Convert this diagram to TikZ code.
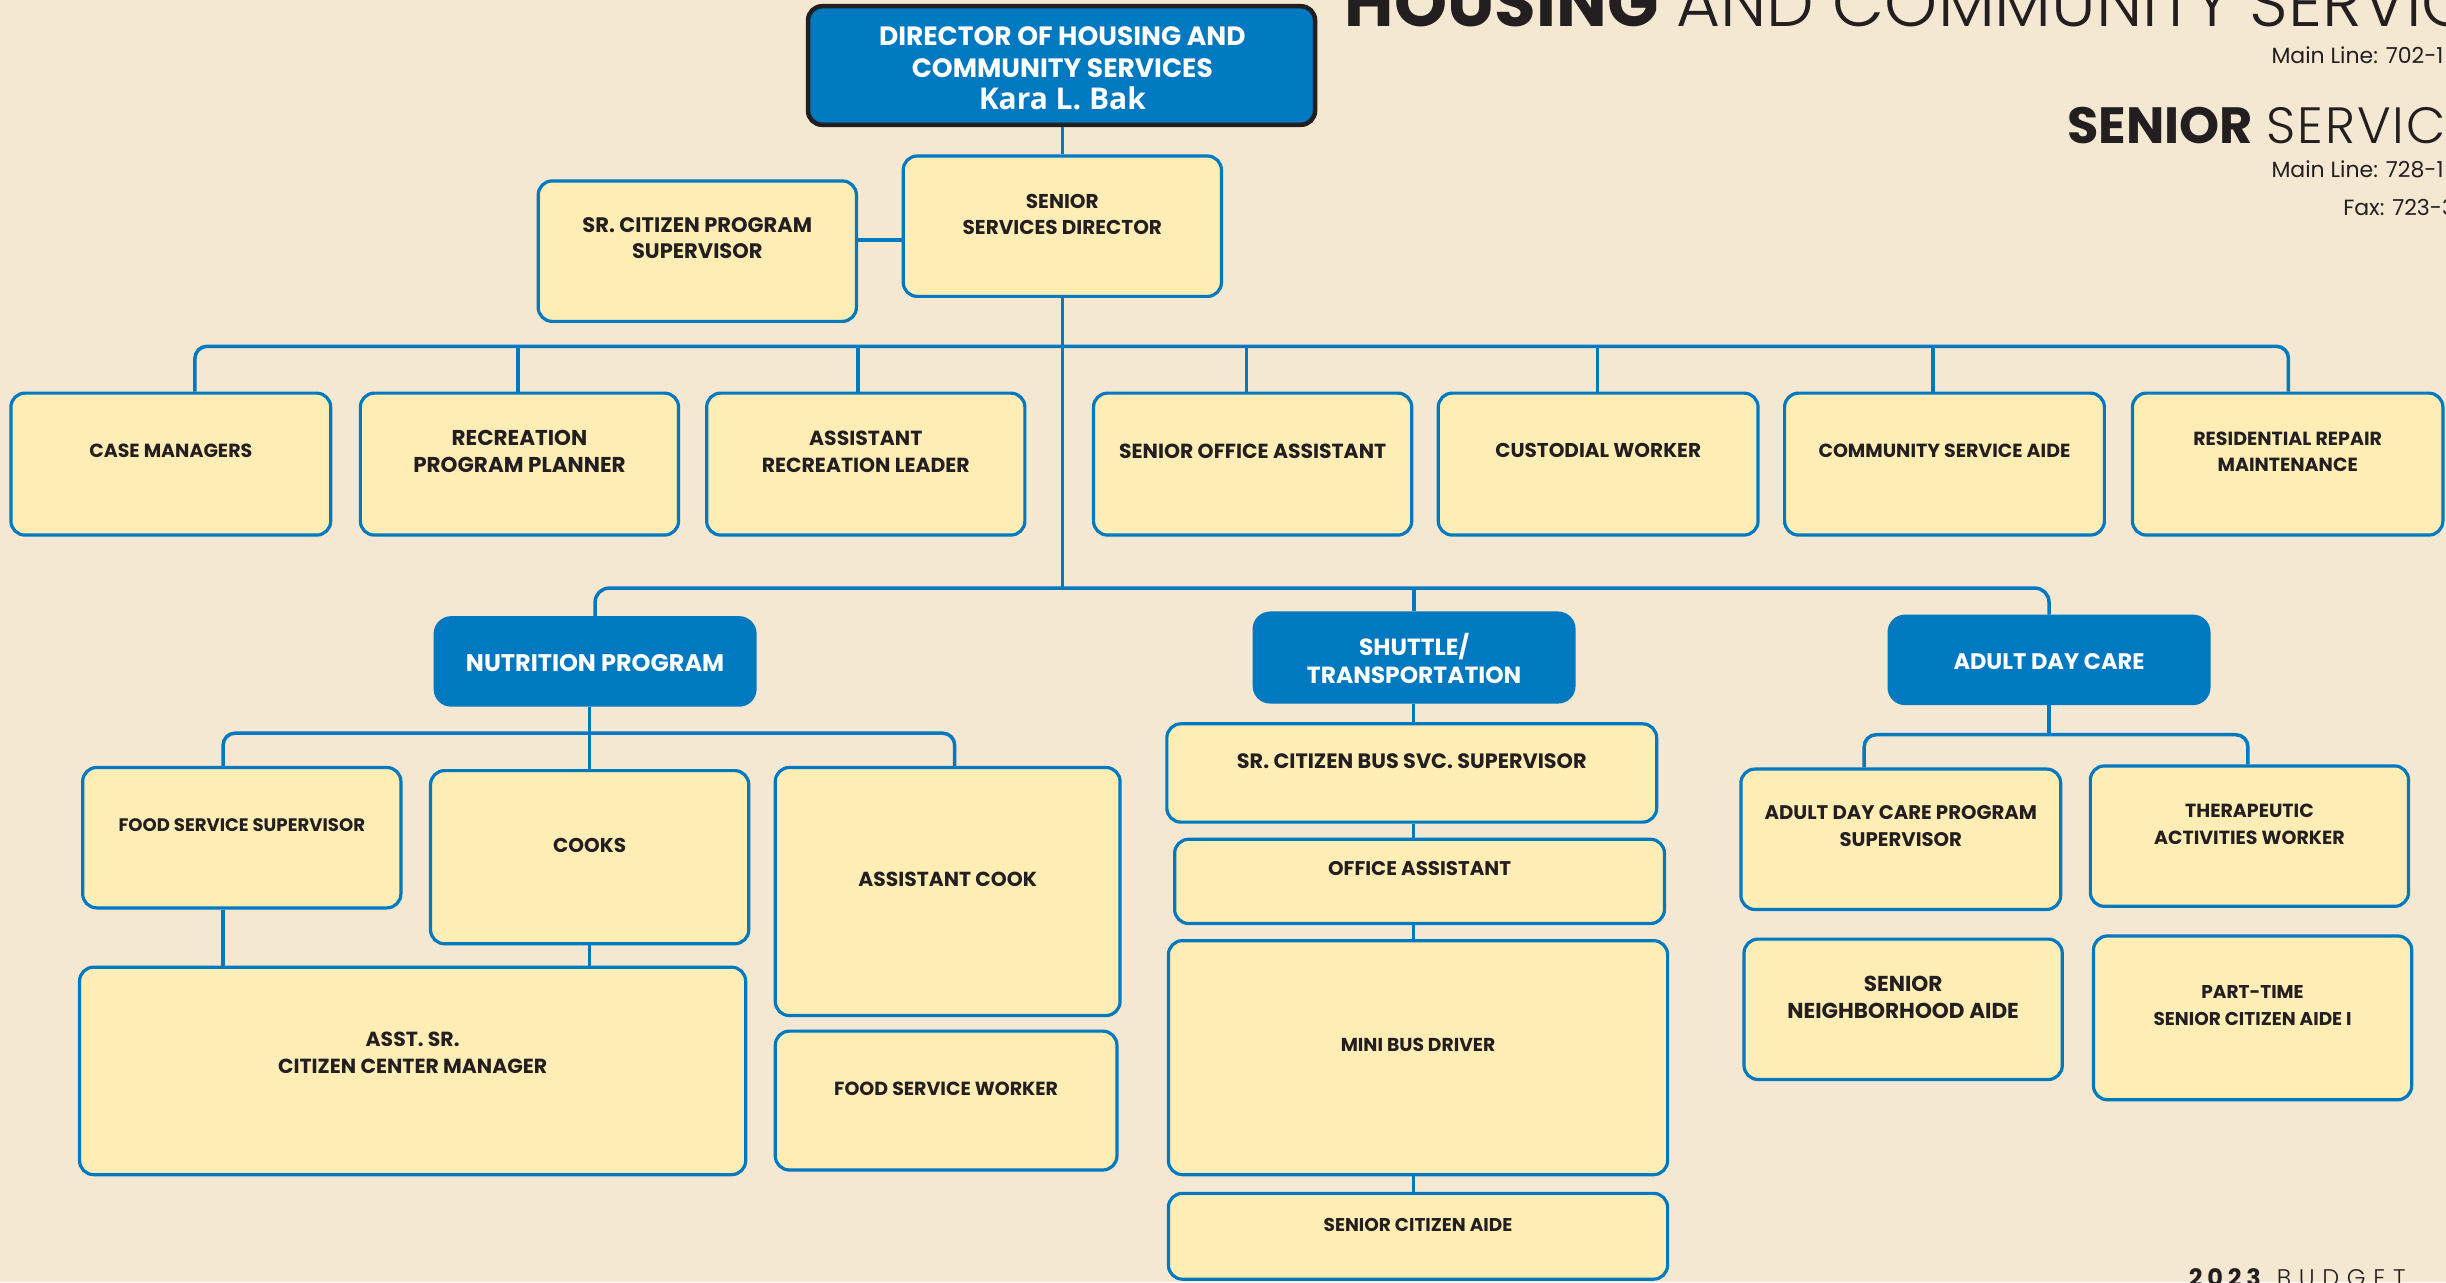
\documentclass[tikz,border=0pt]{standalone}
\usepackage{fontspec}
\setmainfont{Poppins}
\newfontfamily\karafont{Open Sans}
\newfontfamily\spacedfont[LetterSpace=20]{Poppins}
\IfFontExistsTF{Poppins Light}{%
  \newfontfamily\lightfont{Poppins Light}%
  \newfontfamily\spacedlight[LetterSpace=32]{Poppins Light}}{%
  \newfontfamily\lightfont{Poppins}%
  \newfontfamily\spacedlight[LetterSpace=32]{Poppins}}
\usetikzlibrary{fit}
\definecolor{bgc}{HTML}{F5E8D2}
\definecolor{boxc}{HTML}{FEEDB4}
\definecolor{bluec}{HTML}{0079C1}
\definecolor{inkc}{HTML}{231F20}
\tikzset{
  ybox/.style={draw=bluec, fill=boxc, line width=3.2pt, rounded corners=14pt, inner sep=0pt},
  bbox/.style={draw=bluec, fill=bluec, line width=3.2pt, rounded corners=16pt, inner sep=0pt},
  lbl/.style={text=inkc, align=center, inner sep=0pt},
  wlbl/.style={text=white, align=center, inner sep=0pt},
  conn/.style={draw=bluec, line width=3.5pt},
  hdr/.style={anchor=base west, inner sep=0pt, text=inkc},
}
% \yb[font size]{name}{x1}{y1}{x2}{y2}{text y}{text}
\newcommand\yb[8][19]{%
  \node[ybox, fit={(#3,#4) (#5,#6)}] (#2) {};
  \node[lbl, font=\bfseries\fontsize{#1}{26.5}\selectfont] (#2t) at ({(#3+#5)/2},#7) {#8};}
\newcommand\bb[8][22]{%
  \node[bbox, fit={(#3,#4) (#5,#6)}] (#2) {};
  \node[wlbl, font=\bfseries\fontsize{#1}{28}\selectfont] (#2t) at ({(#3+#5)/2},#7) {#8};}
\begin{document}
\begin{tikzpicture}[x=1.56pt,y=-1.56pt]
\useasboundingbox (0,0) rectangle (1568,822);
\clip (0,0) rectangle (1568,822);
\fill[bgc] (0,0) rectangle (1568,822);

% header texts
\node[hdr, font=\fontsize{67.5}{68}\selectfont] (title) at (862,17) {{\bfseries HOUSING} {\lightfont AND COMMUNITY SERVICES}};
\node[hdr, font=\fontsize{22}{24}\selectfont] (ml1) at (1456,41) {Main Line: 702-1};
\node[hdr, font=\fontsize{51}{52}\selectfont] (sub) at (1325,92) {{\bfseries SENIOR} {\lightfont\addfontfeatures{LetterSpace=4}SERVICES}};
\node[hdr, font=\fontsize{22}{24}\selectfont] (ml2) at (1456,114) {Main Line: 728-1};
\node[hdr, font=\fontsize{22}{24}\selectfont] (fax) at (1502,138) {Fax: 723-3};
\node[hdr, font=\fontsize{24}{24}\selectfont] (budget) at (1403,825) {{\spacedfont\bfseries 2023}\hspace{16pt}{\spacedlight BUDGET}};

% director
\node[draw=inkc, fill=bluec, line width=4.5pt, rounded corners=14pt, inner sep=0pt, fit={(518,4) (843,80)}] (dir) {};
\node[wlbl, font=\bfseries\fontsize{26.5}{32}\selectfont] (dirt) at (681,43.5) {DIRECTOR OF HOUSING AND\\COMMUNITY SERVICES\\{\karafont\bfseries\fontsize{30}{32}\selectfont Kara L. Bak}};

\yb[21]{scps}{345}{116}{549}{206}{152.5}{SR. CITIZEN PROGRAM\\SUPERVISOR}
\yb[20]{ssd}{579}{100}{783}{190}{137.5}{SENIOR\\SERVICES DIRECTOR}

% row 1
\yb{cm}{7}{252}{212}{343}{289}{CASE MANAGERS}
\yb[21.5]{rpp}{231}{252}{435}{343}{289.5}{RECREATION\\PROGRAM PLANNER}
\yb[20.4]{arl}{453}{252}{657}{343}{289.5}{ASSISTANT\\RECREATION LEADER}
\yb[20.4]{soa}{701}{252}{905}{343}{289}{SENIOR OFFICE ASSISTANT}
\yb[20]{cw}{922}{252}{1127}{343}{289}{CUSTODIAL WORKER}
\yb{csa}{1144}{252}{1349}{343}{289}{COMMUNITY SERVICE AIDE}
\yb{res}{1367}{252}{1566}{343}{289.5}{RESIDENTIAL REPAIR\\MAINTENANCE}

% program heads
\bb[24]{nut}{279}{396}{484}{452}{425}{NUTRITION PROGRAM}
\bb[23.4]{shut}{804}{393}{1009}{450}{422}{SHUTTLE/\\TRANSPORTATION}
\bb[22.5]{adc}{1211}{395}{1416}{451}{424}{ADULT DAY CARE}

% nutrition
\yb[18.1]{fss}{53}{492}{257}{582}{529}{FOOD SERVICE SUPERVISOR}
\yb[20]{cooks}{276}{494}{480}{605}{542}{COOKS}
\yb[20.3]{acook}{497}{492}{718}{651}{564}{ASSISTANT COOK}
\yb[20.4]{asccm}{51}{620}{478}{753}{675}{ASST. SR.\\CITIZEN CENTER MANAGER}
\yb{fsw}{497}{661}{716}{750}{698}{FOOD SERVICE WORKER}

% shuttle
\yb[20.8]{bsup}{748}{464}{1062}{527}{488}{SR. CITIZEN BUS SVC. SUPERVISOR}
\yb[19.8]{oa}{753}{538}{1067}{592}{557}{OFFICE ASSISTANT}
\yb[18.7]{mbd}{749}{603}{1069}{753}{670}{MINI BUS DRIVER}
\yb[18.5]{sca}{749}{765}{1069}{820}{785}{SENIOR CITIZEN AIDE}

% adult day care
\yb[19.7]{adcps}{1116}{493}{1321}{583}{529.5}{ADULT DAY CARE PROGRAM\\SUPERVISOR}
\yb{taw}{1340}{491}{1544}{581}{528.5}{THERAPEUTIC\\ACTIVITIES WORKER}
\yb[21.6]{sna}{1118}{602}{1322}{692}{639.5}{SENIOR\\NEIGHBORHOOD AIDE}
\yb[18.5]{pts}{1342}{600}{1546}{705}{644.5}{PART-TIME\\SENIOR CITIZEN AIDE I}

% connector coordinates
\coordinate (trunk) at (681,377);
\coordinate (busL) at (125,222);
\coordinate (busR) at (1467,222);
\coordinate (d2) at (332,222);
\coordinate (d3) at (550,222);
\coordinate (d4) at (799,222);
\coordinate (d5) at (1024,222);
\coordinate (d6) at (1239,222);
\coordinate (sl) at (560,154);
\coordinate (nL) at (143,470);
\coordinate (nR) at (612,470);
\coordinate (sx) at (906,0);
\coordinate (aL) at (1195,471);
\coordinate (aR) at (1441,471);

% connectors
\draw[conn] (dir.south -| trunk) -- (ssd.north -| trunk);
\draw[conn] (scps.east |- sl) -- (ssd.west |- sl);
\draw[conn] (ssd.south -| trunk) -- (trunk);
\draw[conn, rounded corners=12pt] (cm.north -| busL) |- (busR) -- (busR |- res.north);
\draw[conn] (d2) -- (d2 |- rpp.north);
\draw[conn] (d3) -- (d3 |- arl.north);
\draw[conn] (d4) -- (d4 |- soa.north);
\draw[conn] (d5) -- (d5 |- cw.north);
\draw[conn] (d6) -- (d6 |- csa.north);
\draw[conn, rounded corners=14pt] (nut.north) |- (trunk) -| (adc.north);
\draw[conn] (shut.north |- trunk) -- (shut.north);

% nutrition connectors
\draw[conn] (nut.south -| cooks.north) -- (cooks.north);
\draw[conn, rounded corners=12pt] (fss.north -| nL) |- (nR) -- (nR |- acook.north);
\draw[conn] (fss.south -| nL) -- (asccm.north -| nL);
\draw[conn] (cooks.south) -- (cooks.south |- asccm.north);

% shuttle connectors
\draw[conn] (shut.south -| sx) -- (bsup.north -| sx);
\draw[conn] (bsup.south -| sx) -- (oa.north -| sx);
\draw[conn] (oa.south -| sx) -- (mbd.north -| sx);
\draw[conn] (mbd.south -| sx) -- (sca.north -| sx);

% adult day care connectors
\draw[conn] (adc.south) -- (adc.south |- aL);
\draw[conn, rounded corners=12pt] (adcps.north -| aL) |- (aR) -- (aR |- taw.north);
\end{tikzpicture}
\end{document}
